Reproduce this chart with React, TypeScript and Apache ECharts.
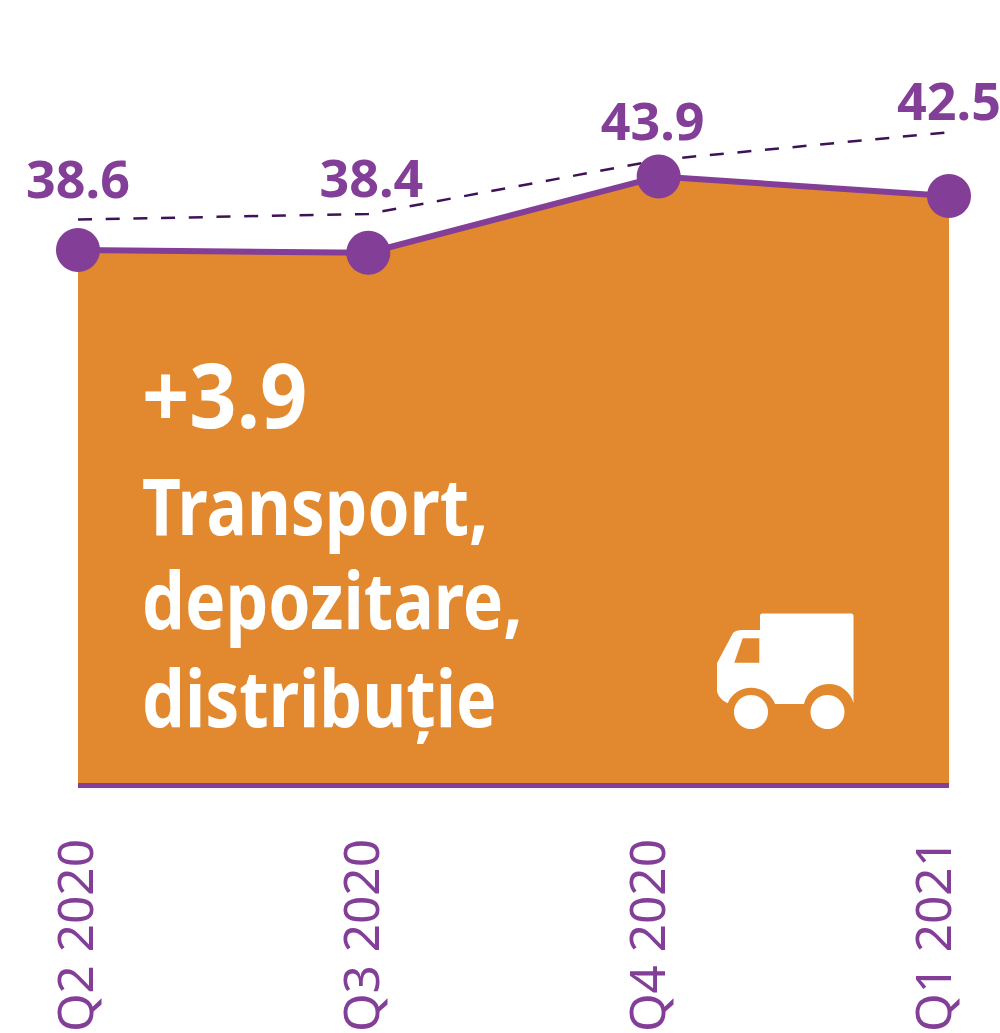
import React, { useEffect, useRef } from "react";
import * as echarts from "echarts";

const categories = ["Q2 2020", "Q3 2020", "Q4 2020", "Q1 2021"];
const areaValues = [38.6, 38.4, 43.9, 42.5];
const dashedValues = [40.8, 41.2, 45.1, 47.1];
const labelTexts = ["38.6", "38.4", "43.9", "42.5"];

const PURPLE = "#833f98";
const ORANGE = "#e2892f";
const DARK = "#3f1257";
const labelNudges = [
  [0, -10],
  [3, -5],
  [-6, -8],
  [0, 0],
];

const truck =
  "M762 613.5 H851 Q853.5 613.5 853.5 616 V703 A25.5 25.5 0 0 0 804 704 H775 A25.5 25.5 0 0 0 727.7 703.3 Q720 700 717 692 V663 L733 633 Q736 630 742 630 H760 V616 Q760 613.5 762 613.5 Z M742.7 638.3 L734.3 662.7 H759.3 V638.3 Z";
echarts.graphic.registerShape("truck", (echarts.graphic as any).extendPath(truck, {}));

const bigText = (text: string, x: number, y: number, size: number, scaleX: number) => ({
  type: "text",
  x,
  y,
  scaleX,
  z: 20,
  style: {
    text,
    fill: "#fff",
    fontFamily: "Noto Sans",
    fontWeight: 700,
    fontSize: size,
    verticalAlign: "middle",
  },
});

export default function App() {
  const ref = useRef<HTMLDivElement>(null);
  useEffect(() => {
    const chart = echarts.init(ref.current!, undefined, { renderer: "svg" });
    chart.setOption({
      animation: false,
      backgroundColor: "#fff",
      grid: [
        { left: 78, width: 871, top: 92, height: 693, outerBoundsMode: "none" },
        { left: 74, width: 858, top: 92, height: 693, outerBoundsMode: "none" },
      ],
      xAxis: [
        {
          type: "category",
          gridIndex: 0,
          data: categories,
          boundaryGap: false,
          axisTick: { show: false },
          axisLabel: { show: false },
          axisLine: { show: true, onZero: false, lineStyle: { color: PURPLE, width: 5, cap: "butt" } },
          z: 5,
        },
        {
          type: "category",
          gridIndex: 1,
          data: categories,
          boundaryGap: false,
          axisTick: { show: false },
          axisLine: { show: false },
          axisLabel: {
            show: true,
            interval: 0,
            rotate: 90,
            margin: 54,
            color: PURPLE,
            fontFamily: "Noto Sans",
            fontWeight: 400,
            fontSize: 49.5,
          },
        },
      ],
      yAxis: [
        { type: "value", gridIndex: 0, min: 0, max: 50, show: false },
        { type: "value", gridIndex: 1, min: 0, max: 50, show: false },
      ],
      series: [
        {
          type: "line",
          xAxisIndex: 0,
          yAxisIndex: 0,
          data: areaValues,
          clip: false,
          symbol: "circle",
          symbolSize: 44,
          showSymbol: true,
          lineStyle: { color: PURPLE, width: 6 },
          itemStyle: { color: PURPLE },
          areaStyle: { color: ORANGE, opacity: 1 },
          label: { show: false },
          z: 3,
        },
        {
          type: "line",
          xAxisIndex: 0,
          yAxisIndex: 0,
          data: dashedValues.map((value, i) => ({ value, label: { offset: labelNudges[i] } })),
          clip: false,
          symbol: "circle",
          symbolSize: 1,
          showSymbol: true,
          itemStyle: { color: "transparent" },
          lineStyle: { color: DARK, width: 2.5, type: [14, 13.7] },
          label: {
            show: true,
            position: "top",
            distance: 6,
            formatter: (p: any) => labelTexts[p.dataIndex],
            color: PURPLE,
            fontFamily: "Noto Sans",
            fontWeight: 700,
            fontSize: 52,
          },
          z: 2,
        },
        {
          type: "line",
          xAxisIndex: 1,
          yAxisIndex: 1,
          data: [],
          silent: true,
        },
      ],
      graphic: [
        bigText("+3.9", 142, 393, 90, 0.92),
        bigText("Transport,", 142, 505, 78, 0.866),
        bigText("depozitare,", 142, 599, 78, 0.87),
        bigText("distribuție", 142, 697, 78, 0.87),
        { type: "truck", x: 0, y: 0, z: 20, style: { fill: "#fff" } },
        { type: "circle", z: 20, shape: { cx: 751, cy: 712, r: 17 }, style: { fill: "#fff" } },
        { type: "circle", z: 20, shape: { cx: 827.5, cy: 712, r: 17 }, style: { fill: "#fff" } },
      ],
    });
    return () => chart.dispose();
  }, []);
  return (
    <div
      ref={ref}
      style={{ position: "absolute", left: 0, top: 0, width: 1000, height: 1033 }}
    />
  );
}
